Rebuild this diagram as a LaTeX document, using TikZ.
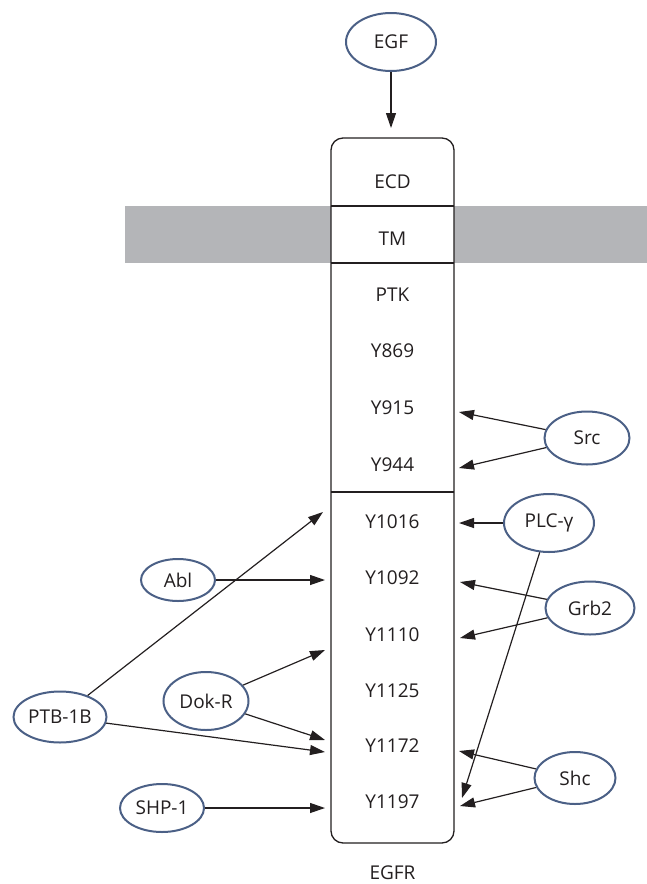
\documentclass[tikz,border=0pt]{standalone}
\usepackage{fontspec}
\setmainfont{Open Sans}
\usetikzlibrary{arrows.meta,shapes.geometric}
\definecolor{ellc}{HTML}{4B6086}
\definecolor{memb}{HTML}{B4B5B8}
\definecolor{txt}{HTML}{231F20}
\begin{document}
\begin{tikzpicture}[x=1pt,y=-1pt,
  prot/.style={draw=ellc,line width=2pt,ellipse,inner sep=0pt,fill=white,
    font=\fontsize{19}{22}\selectfont,text=txt},
  lbl/.style={font=\fontsize{19}{22}\selectfont,text=txt,inner sep=0pt},
  arr/.style={line width=1.2pt,draw=txt,-{Triangle[length=15pt,width=10pt]}}]
\useasboundingbox (0,0) rectangle (647,884);
% membrane
\fill[memb] (125,206) rectangle (647,263);
% receptor box
\node[draw=txt,line width=1.3pt,fill=white,rounded corners=12pt,minimum width=123pt,
  minimum height=705pt,inner sep=0pt] (egfr) at (392.5,490.5) {};
\draw[line width=1.3pt,txt] (331,206) -- (454,206) (331,263) -- (454,263) (331,492) -- (454,492);
% row labels
\node[lbl] (ecd) at (392.5,182) {ECD};
\node[lbl] (tm) at (392.5,239) {TM};
\node[lbl] (ptk) at (392.5,295) {PTK};
\node[lbl] (y869) at (392.5,351) {Y869};
\node[lbl] (y915) at (392.5,408) {Y915};
\node[lbl] (y944) at (392.5,465) {Y944};
\node[lbl] (y1016) at (392.5,522) {Y1016};
\node[lbl] (y1092) at (392.5,578) {Y1092};
\node[lbl] (y1110) at (392.5,635) {Y1110};
\node[lbl] (y1125) at (392.5,691) {Y1125};
\node[lbl] (y1172) at (392.5,746) {Y1172};
\node[lbl] (y1197) at (392.5,802) {Y1197};
\node[lbl] (egfrl) at (392.5,873) {EGFR};
% proteins
\node[prot,minimum width=90pt,minimum height=58pt] (egf) at (391,42) {EGF};
\node[prot,minimum width=85pt,minimum height=53pt] (src) at (587,438) {Src};
\node[prot,minimum width=90pt,minimum height=58pt] (plc) at (549,523) {PLC-γ};
\node[prot,minimum width=89pt,minimum height=53pt] (grb) at (590,608) {Grb2};
\node[prot,minimum width=81pt,minimum height=52pt] (shc) at (575,778) {Shc};
\node[prot,minimum width=74pt,minimum height=42pt] (abl) at (178,580) {Abl};
\node[prot,minimum width=93pt,minimum height=51pt] (ptb) at (60,717) {PTB-1B};
\node[prot,minimum width=85pt,minimum height=58pt] (dok) at (206,701) {Dok-R};
\node[prot,minimum width=84pt,minimum height=48pt] (shp) at (162,808) {SHP-1};
% target points
\coordinate (tegf) at (391,128);
\coordinate (r915) at (459,412);
\coordinate (r944) at (459,468);
\coordinate (r1016) at (459,523);
\coordinate (r1092) at (460,582);
\coordinate (r1110) at (460,638);
\coordinate (r1172) at (459,751);
\coordinate (r1197) at (460,806);
\coordinate (r1197b) at (462,798);
\coordinate (l1016) at (323,512);
\coordinate (l1092) at (325,580);
\coordinate (l1110) at (325,650);
\coordinate (l1172a) at (325,740);
\coordinate (l1172b) at (325,752);
\coordinate (l1197) at (325,808);
% connectors
\draw[arr] (egf) -- (tegf);
\draw[arr] (src) -- (r915);
\draw[arr] (src) -- (r944);
\draw[arr] (plc) -- (r1016);
\draw[arr] (plc) -- (r1197b);
\draw[arr] (grb) -- (r1092);
\draw[arr] (grb) -- (r1110);
\draw[arr] (shc) -- (r1172);
\draw[arr] (shc) -- (r1197);
\draw[arr] (abl) -- (l1092);
\draw[arr] (ptb) -- (l1016);
\draw[arr] (ptb) -- (l1172b);
\draw[arr] (dok) -- (l1110);
\draw[arr] (dok) -- (l1172a);
\draw[arr] (shp) -- (l1197);
\end{tikzpicture}
\end{document}
